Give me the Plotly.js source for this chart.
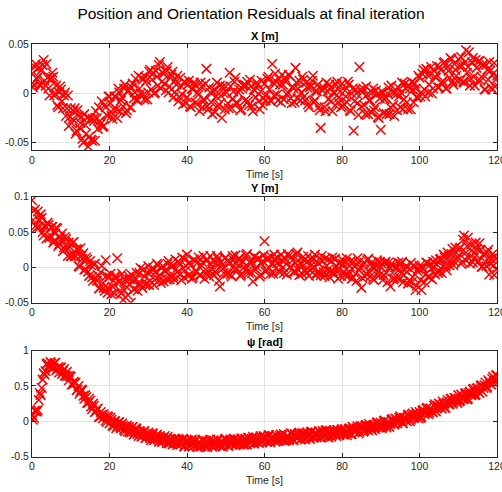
<!DOCTYPE html>
<html>
<head>
<meta charset="utf-8">
<script src="https://cdn.plot.ly/plotly-3.0.1.min.js"></script>
<style>html,body{margin:0;padding:0;background:#fff;}#chart{width:502px;height:492px;}</style>
</head>
<body>
<div id="chart"></div>
<script>
// Time samples [s]
const time = [
0,0.25,0.5,0.75,1,1.25,1.5,1.75,2,2.25,2.5,2.75,3,3.25,3.5,3.75,4,4.25,4.5,4.75,
5,5.25,5.5,5.75,6,6.25,6.5,6.75,7,7.25,7.5,7.75,8,8.25,8.5,8.75,9,9.25,9.5,9.75,
10,10.25,10.5,10.75,11,11.25,11.5,11.75,12,12.25,12.5,12.75,13,13.25,13.5,13.75,14,14.25,14.5,14.75,
15,15.25,15.5,15.75,16,16.25,16.5,16.75,17,17.25,17.5,17.75,18,18.25,18.5,18.75,19,19.25,19.5,19.75,
20,20.25,20.5,20.75,21,21.25,21.5,21.75,22,22.25,22.5,22.75,23,23.25,23.5,23.75,24,24.25,24.5,24.75,
25,25.25,25.5,25.75,26,26.25,26.5,26.75,27,27.25,27.5,27.75,28,28.25,28.5,28.75,29,29.25,29.5,29.75,
30,30.25,30.5,30.75,31,31.25,31.5,31.75,32,32.25,32.5,32.75,33,33.25,33.5,33.75,34,34.25,34.5,34.75,
35,35.25,35.5,35.75,36,36.25,36.5,36.75,37,37.25,37.5,37.75,38,38.25,38.5,38.75,39,39.25,39.5,39.75,
40,40.25,40.5,40.75,41,41.25,41.5,41.75,42,42.25,42.5,42.75,43,43.25,43.5,43.75,44,44.25,44.5,44.75,
45,45.25,45.5,45.75,46,46.25,46.5,46.75,47,47.25,47.5,47.75,48,48.25,48.5,48.75,49,49.25,49.5,49.75,
50,50.25,50.5,50.75,51,51.25,51.5,51.75,52,52.25,52.5,52.75,53,53.25,53.5,53.75,54,54.25,54.5,54.75,
55,55.25,55.5,55.75,56,56.25,56.5,56.75,57,57.25,57.5,57.75,58,58.25,58.5,58.75,59,59.25,59.5,59.75,
60,60.25,60.5,60.75,61,61.25,61.5,61.75,62,62.25,62.5,62.75,63,63.25,63.5,63.75,64,64.25,64.5,64.75,
65,65.25,65.5,65.75,66,66.25,66.5,66.75,67,67.25,67.5,67.75,68,68.25,68.5,68.75,69,69.25,69.5,69.75,
70,70.25,70.5,70.75,71,71.25,71.5,71.75,72,72.25,72.5,72.75,73,73.25,73.5,73.75,74,74.25,74.5,74.75,
75,75.25,75.5,75.75,76,76.25,76.5,76.75,77,77.25,77.5,77.75,78,78.25,78.5,78.75,79,79.25,79.5,79.75,
80,80.25,80.5,80.75,81,81.25,81.5,81.75,82,82.25,82.5,82.75,83,83.25,83.5,83.75,84,84.25,84.5,84.75,
85,85.25,85.5,85.75,86,86.25,86.5,86.75,87,87.25,87.5,87.75,88,88.25,88.5,88.75,89,89.25,89.5,89.75,
90,90.25,90.5,90.75,91,91.25,91.5,91.75,92,92.25,92.5,92.75,93,93.25,93.5,93.75,94,94.25,94.5,94.75,
95,95.25,95.5,95.75,96,96.25,96.5,96.75,97,97.25,97.5,97.75,98,98.25,98.5,98.75,99,99.25,99.5,99.75,
100,100.25,100.5,100.75,101,101.25,101.5,101.75,102,102.25,102.5,102.75,103,103.25,103.5,103.75,104,104.25,104.5,104.75,
105,105.25,105.5,105.75,106,106.25,106.5,106.75,107,107.25,107.5,107.75,108,108.25,108.5,108.75,109,109.25,109.5,109.75,
110,110.25,110.5,110.75,111,111.25,111.5,111.75,112,112.25,112.5,112.75,113,113.25,113.5,113.75,114,114.25,114.5,114.75,
115,115.25,115.5,115.75,116,116.25,116.5,116.75,117,117.25,117.5,117.75,118,118.25,118.5,118.75,119,119.25,119.5,119.75,
120];

// X residual [m]
const resX = [
0.020,0.006,0.009,0.027,0.030,0.015,0.017,0.026,0.009,0.008,0.024,0.029,0.034,0.013,0.008,0.030,0.016,0.005,-0.002,0.015,
0.016,0.021,0.017,-0.002,0.000,0.008,-0.012,-0.014,0.001,0.007,0.004,-0.008,-0.015,-0.002,0.001,-0.023,-0.015,-0.002,-0.033,-0.024,
-0.015,-0.030,-0.026,-0.018,-0.015,-0.041,-0.038,-0.017,-0.023,-0.035,-0.030,-0.024,-0.046,-0.050,-0.021,-0.032,-0.041,-0.025,-0.054,-0.044,
-0.026,-0.047,-0.048,-0.026,-0.028,-0.048,-0.018,-0.025,-0.036,-0.014,-0.028,-0.031,-0.008,-0.034,-0.033,-0.012,-0.014,-0.022,-0.023,-0.003,
-0.003,-0.010,-0.023,-0.026,-0.016,-0.003,-0.003,-0.016,-0.025,0.005,0.001,-0.018,-0.007,-0.004,-0.013,0.005,0.009,-0.020,-0.017,0.003,
0.003,-0.014,-0.014,0.006,0.010,-0.005,0.001,0.015,-0.006,-0.007,0.018,0.005,0.000,0.016,0.014,-0.001,-0.006,0.017,0.013,-0.006,
0.001,0.022,0.024,0.004,0.014,0.021,0.000,0.001,0.023,0.017,0.008,0.029,0.032,0.005,0.012,0.021,0.020,0.010,0.003,0.023,
0.027,0.001,0.007,0.016,0.019,0.022,-0.004,0.001,0.014,0.009,0.018,-0.008,-0.003,0.016,0.007,-0.001,-0.011,0.012,0.011,-0.010,
-0.004,0.009,0.013,-0.013,-0.014,0.005,0.004,0.011,0.009,-0.009,-0.011,0.001,-0.001,-0.018,0.011,0.007,-0.014,-0.006,-0.007,0.010,
0.025,-0.013,-0.016,0.006,0.001,-0.009,-0.021,0.002,0.004,-0.019,-0.003,0.011,-0.013,-0.011,0.008,-0.002,-0.025,0.007,0.000,-0.016,
0.007,0.001,-0.010,-0.015,0.021,0.007,-0.015,-0.006,0.002,0.012,0.016,-0.009,-0.010,0.001,0.004,-0.017,-0.016,0.005,0.008,0.009,
-0.007,0.008,0.012,-0.008,-0.012,0.014,0.007,-0.013,-0.018,0.004,0.003,-0.004,0.011,0.009,-0.008,-0.016,0.002,0.013,-0.012,-0.005,
0.010,-0.007,-0.001,0.015,0.017,0.004,-0.007,-0.008,0.030,0.011,-0.002,0.020,0.012,-0.001,-0.007,0.015,0.009,-0.009,0.019,0.009,
-0.006,0.016,0.012,-0.001,0.001,0.019,0.018,-0.005,-0.010,0.007,0.005,-0.009,0.026,0.011,-0.005,0.005,0.013,-0.007,0.001,0.017,
0.014,-0.003,-0.007,0.011,0.006,-0.011,-0.014,0.006,0.008,0.013,0.018,-0.009,-0.007,0.003,0.002,0.009,-0.014,-0.017,-0.035,0.004,
0.003,0.006,-0.014,-0.018,0.011,0.002,-0.006,0.009,0.006,-0.008,-0.018,0.001,0.000,-0.012,0.009,0.012,-0.009,-0.004,0.002,-0.014,
0.010,-0.013,-0.011,0.003,-0.003,-0.009,0.012,0.009,-0.017,-0.018,0.000,0.005,-0.038,-0.008,0.004,0.000,-0.010,-0.022,0.027,0.004,
-0.013,0.001,0.005,-0.012,-0.021,0.007,-0.001,-0.021,-0.007,-0.007,-0.019,0.001,0.005,-0.017,-0.014,0.003,-0.001,-0.024,-0.025,-0.005,
-0.037,0.002,0.001,-0.020,-0.006,-0.004,-0.021,0.000,0.006,-0.021,-0.014,0.008,0.001,-0.012,-0.023,0.001,-0.001,-0.017,0.006,-0.003,
-0.014,0.001,0.011,-0.016,-0.006,0.010,0.005,-0.009,-0.016,0.008,0.005,-0.016,0.012,0.004,-0.009,0.010,0.005,-0.004,-0.004,0.018,
0.016,-0.003,0.001,0.020,0.024,0.004,-0.003,0.025,0.019,0.001,0.009,0.019,0.027,0.000,0.005,0.023,0.017,0.016,0.028,0.006,
0.006,0.027,0.024,0.011,0.013,0.031,0.032,0.005,0.005,0.027,0.023,0.016,0.036,0.035,0.012,0.009,0.030,0.024,0.018,0.013,
0.035,0.028,0.013,0.037,0.028,0.012,0.011,0.032,0.044,0.021,0.027,0.042,0.008,0.015,0.032,0.036,0.017,0.008,0.034,0.026,
0.013,0.033,0.033,0.013,0.017,0.029,0.029,0.004,0.004,0.029,0.024,0.014,0.032,0.023,0.006,0.004,0.020,0.031,0.007,0.014,
0.018];

// Y residual [m]
const resY = [
0.095,0.067,0.080,0.082,0.059,0.056,0.079,0.068,0.057,0.075,0.070,0.050,0.045,0.059,0.058,0.041,0.063,0.060,0.042,0.045,
0.057,0.057,0.035,0.038,0.048,0.056,0.055,0.030,0.033,0.043,0.040,0.048,0.023,0.028,0.043,0.040,0.028,0.016,0.035,0.029,
0.016,0.016,0.035,0.036,0.016,0.016,0.026,0.025,0.002,0.001,0.027,0.016,0.012,0.020,-0.003,-0.003,0.014,0.011,-0.006,-0.012,
0.009,0.003,-0.014,-0.019,0.004,0.005,-0.016,-0.019,-0.011,-0.030,-0.029,-0.007,0.002,-0.022,-0.029,-0.033,0.010,-0.012,-0.036,-0.030,
-0.014,-0.009,-0.038,-0.027,-0.019,-0.037,-0.012,-0.014,0.013,-0.020,-0.021,-0.033,-0.037,-0.009,-0.046,-0.032,-0.017,-0.019,-0.028,-0.039,
-0.013,-0.017,-0.050,-0.011,-0.018,-0.031,-0.031,-0.017,-0.008,-0.033,-0.024,-0.008,-0.001,-0.024,-0.029,-0.003,-0.013,-0.025,-0.023,-0.007,
0.002,-0.025,-0.019,-0.007,-0.003,-0.001,-0.025,-0.018,-0.006,0.005,0.003,-0.012,-0.018,-0.022,-0.001,0.002,-0.020,-0.005,-0.005,-0.017,
0.005,0.009,-0.017,-0.014,0.001,0.002,-0.012,-0.017,0.011,-0.002,-0.007,0.008,0.006,-0.010,-0.018,0.014,-0.001,-0.014,0.011,0.002,
0.018,-0.012,-0.011,0.007,0.003,-0.016,-0.014,0.011,0.009,-0.005,-0.006,0.007,0.014,-0.011,-0.011,0.003,0.007,0.016,-0.016,-0.008,
0.009,0.011,-0.007,-0.013,0.016,0.004,-0.003,0.010,-0.011,-0.006,0.006,0.016,0.012,-0.019,-0.027,0.007,0.003,-0.002,-0.008,0.013,
0.014,-0.008,-0.009,0.009,0.006,-0.010,-0.013,0.016,0.010,-0.003,0.017,0.005,-0.002,0.012,0.012,-0.012,-0.010,0.008,0.008,0.000,
-0.004,0.017,0.019,-0.005,-0.008,0.007,0.006,-0.008,-0.020,0.015,0.015,-0.003,0.001,0.012,0.012,-0.013,-0.010,0.005,0.009,0.017,
0.037,-0.006,-0.004,0.010,0.014,-0.001,-0.009,0.015,0.006,-0.009,0.018,0.012,-0.001,0.006,0.013,-0.005,-0.007,0.018,0.010,0.000,
-0.008,0.013,0.011,-0.010,0.019,0.016,0.000,0.001,0.015,0.010,-0.006,-0.007,0.006,0.019,0.021,-0.004,-0.011,0.007,0.004,-0.009,
0.015,0.010,-0.004,-0.008,0.008,0.016,-0.012,-0.004,0.011,0.004,-0.001,0.012,0.018,-0.011,-0.008,0.007,0.005,-0.007,-0.011,0.016,
0.009,-0.007,-0.012,0.013,0.002,-0.004,0.011,-0.014,-0.006,0.009,0.014,-0.006,-0.010,0.012,0.002,-0.003,-0.016,0.006,0.006,-0.012,
0.011,0.005,-0.006,-0.011,0.007,0.013,-0.012,-0.006,0.002,0.009,-0.016,-0.015,0.008,0.001,-0.009,-0.019,0.013,0.007,-0.004,0.000,
-0.029,-0.015,0.004,0.007,-0.013,-0.009,0.010,0.012,-0.007,-0.013,0.006,0.001,-0.016,-0.018,-0.001,0.003,0.010,-0.007,-0.012,0.008,
0.001,0.005,-0.018,-0.011,0.006,0.008,-0.008,-0.021,0.007,0.000,-0.027,0.005,0.002,-0.017,-0.015,0.000,-0.002,-0.015,0.007,-0.003,
-0.015,0.005,0.008,-0.021,-0.011,-0.004,0.002,0.001,-0.023,-0.019,-0.002,0.006,-0.021,-0.014,0.003,0.001,-0.032,-0.026,-0.005,-0.002,
0.002,-0.018,-0.032,-0.002,-0.001,-0.021,-0.010,0.007,0.006,-0.013,-0.014,0.004,-0.002,-0.017,0.008,0.001,-0.010,0.010,0.004,-0.008,
-0.006,0.011,0.012,-0.008,0.002,0.018,0.014,0.001,-0.004,0.021,0.016,0.003,0.009,0.019,0.026,0.003,0.008,0.028,0.021,0.015,
0.014,0.026,0.028,0.005,0.008,0.039,0.045,0.011,0.021,0.030,0.042,0.013,0.005,0.032,0.024,0.007,0.013,0.020,0.035,0.026,
0.007,0.009,0.034,0.025,0.001,0.001,0.018,0.020,0.008,0.002,0.021,0.025,-0.010,0.005,0.012,0.018,0.002,-0.011,0.016,0.012,
-0.002];

// Heading residual psi [rad]
const resPsi = [
0.09,0.02,0.05,0.15,0.14,0.14,0.16,0.30,0.40,0.37,0.47,0.59,0.68,0.66,0.71,0.81,0.82,0.78,0.79,0.84,
0.82,0.76,0.75,0.82,0.83,0.72,0.74,0.77,0.69,0.76,0.76,0.67,0.71,0.74,0.65,0.64,0.70,0.64,0.58,0.64,
0.63,0.52,0.52,0.56,0.54,0.55,0.44,0.45,0.50,0.39,0.42,0.45,0.44,0.36,0.32,0.37,0.34,0.26,0.26,0.32,
0.29,0.21,0.17,0.25,0.22,0.13,0.14,0.17,0.18,0.06,0.06,0.13,0.09,0.04,0.10,0.07,0.01,-0.01,0.07,0.06,
-0.03,0.05,0.02,-0.06,-0.07,0.00,0.00,-0.10,-0.07,-0.02,-0.01,-0.09,-0.10,-0.03,-0.06,-0.12,-0.14,-0.08,-0.06,-0.15,
-0.08,-0.15,-0.16,-0.09,-0.08,-0.19,-0.16,-0.10,-0.11,-0.18,-0.21,-0.14,-0.15,-0.22,-0.21,-0.15,-0.14,-0.24,-0.23,-0.18,
-0.16,-0.18,-0.24,-0.27,-0.17,-0.18,-0.27,-0.25,-0.21,-0.19,-0.26,-0.29,-0.21,-0.23,-0.29,-0.29,-0.23,-0.21,-0.27,-0.31,
-0.22,-0.31,-0.31,-0.25,-0.26,-0.33,-0.31,-0.25,-0.25,-0.31,-0.34,-0.25,-0.27,-0.33,-0.32,-0.26,-0.25,-0.36,-0.35,-0.29,
-0.28,-0.27,-0.36,-0.33,-0.27,-0.26,-0.32,-0.35,-0.26,-0.28,-0.34,-0.37,-0.30,-0.30,-0.36,-0.35,-0.27,-0.27,-0.34,-0.36,
-0.28,-0.37,-0.34,-0.28,-0.26,-0.33,-0.36,-0.27,-0.29,-0.35,-0.33,-0.26,-0.27,-0.34,-0.35,-0.29,-0.28,-0.36,-0.31,-0.26,
-0.25,-0.28,-0.34,-0.35,-0.28,-0.26,-0.33,-0.33,-0.26,-0.25,-0.34,-0.31,-0.26,-0.26,-0.31,-0.33,-0.24,-0.27,-0.33,-0.33,
-0.25,-0.32,-0.33,-0.23,-0.24,-0.31,-0.29,-0.25,-0.22,-0.32,-0.30,-0.23,-0.25,-0.29,-0.31,-0.23,-0.21,-0.30,-0.28,-0.21,
-0.22,-0.23,-0.29,-0.29,-0.20,-0.20,-0.30,-0.27,-0.23,-0.21,-0.27,-0.29,-0.20,-0.22,-0.28,-0.27,-0.21,-0.19,-0.25,-0.27,
-0.18,-0.28,-0.27,-0.21,-0.21,-0.27,-0.26,-0.17,-0.18,-0.25,-0.27,-0.18,-0.19,-0.24,-0.24,-0.18,-0.16,-0.26,-0.25,-0.17,
-0.18,-0.17,-0.26,-0.23,-0.16,-0.18,-0.21,-0.25,-0.15,-0.15,-0.23,-0.23,-0.17,-0.16,-0.23,-0.21,-0.14,-0.15,-0.21,-0.23,
-0.14,-0.21,-0.21,-0.13,-0.13,-0.22,-0.23,-0.14,-0.15,-0.22,-0.19,-0.15,-0.13,-0.19,-0.21,-0.12,-0.13,-0.20,-0.17,-0.13,
-0.11,-0.18,-0.19,-0.11,-0.13,-0.20,-0.17,-0.11,-0.10,-0.18,-0.18,-0.08,-0.10,-0.16,-0.14,-0.10,-0.07,-0.17,-0.15,-0.07,
-0.08,-0.07,-0.15,-0.13,-0.06,-0.05,-0.10,-0.13,-0.04,-0.07,-0.11,-0.13,-0.06,-0.05,-0.11,-0.09,-0.02,-0.02,-0.08,-0.09,
-0.02,-0.10,-0.08,0.00,0.01,-0.07,-0.09,-0.02,-0.01,-0.08,-0.04,0.02,0.03,-0.03,-0.05,0.04,0.03,-0.03,0.00,0.05,
0.07,0.05,-0.02,-0.03,0.05,0.05,0.01,0.00,0.09,0.09,0.00,0.02,0.09,0.11,0.05,0.05,0.13,0.11,0.05,0.04,
0.13,0.05,0.06,0.15,0.16,0.10,0.12,0.18,0.19,0.10,0.12,0.18,0.18,0.13,0.13,0.22,0.24,0.14,0.18,0.22,
0.25,0.24,0.19,0.18,0.28,0.25,0.19,0.19,0.27,0.30,0.24,0.24,0.32,0.32,0.25,0.27,0.33,0.33,0.30,0.26,
0.37,0.28,0.29,0.38,0.36,0.31,0.32,0.39,0.40,0.31,0.32,0.40,0.42,0.37,0.38,0.45,0.46,0.37,0.38,0.46,
0.47,0.41,0.40,0.50,0.51,0.42,0.47,0.51,0.55,0.47,0.49,0.58,0.56,0.53,0.52,0.60,0.63,0.54,0.58,0.65,
0.65];

// Labels
const mainTitle = 'Position and Orientation Residuals at final iteration';
const panelTitles = ['X [m]', 'Y [m]', 'ψ [rad]'];
const xLabel = 'Time [s]';
const xTicks = [0, 20, 40, 60, 80, 100, 120];
const yTicks1 = [-0.05, 0, 0.05];
const yTickText1 = ['-0.05', '0', '0.05'];
const yTicks2 = [-0.05, 0, 0.05, 0.1];
const yTickText2 = ['-0.05', '0', '0.05', '0.1'];
const yTicks3 = [-0.5, 0, 0.5, 1];
const yTickText3 = ['-0.5', '0', '0.5', '1'];

const W = 502, H = 492;
const px = v => v / W;
const py = v => 1 - v / H;
const xDom = [px(32), px(497)];
const panels = [[44.3, 150], [196.7, 302.7], [350.7, 456.5]];
const yRanges = [[-0.0575, 0.05], [-0.05, 0.1], [-0.5, 1]];

const FONT = 'Liberation Sans, Arial, Helvetica, sans-serif';
const AX = '#262626';

const marker = {symbol: 'x-thin', size: 9.5, color: '#ff0000', line: {color: '#ff0000', width: 1.5}};
const series = [resX, resY, resPsi];

const traces = series.map((s, i) => ({
  type: 'scatter', mode: 'markers',
  x: time, y: s,
  xaxis: i === 0 ? 'x' : 'x' + (i + 1),
  yaxis: i === 0 ? 'y' : 'y' + (i + 1),
  marker: marker, showlegend: false, hoverinfo: 'x+y', cliponaxis: true
}));

const layout = {
  width: W, height: H,
  margin: {l: 0, r: 0, t: 0, b: 0},
  paper_bgcolor: '#fff', plot_bgcolor: '#fff',
  showlegend: false,
  font: {family: FONT, size: 10.5, color: AX},
  title: {text: mainTitle, font: {family: FONT, size: 15.5, color: '#000'},
          x: 0.5, xanchor: 'center', xref: 'paper', y: 1 - 14 / H, yanchor: 'middle', yref: 'container'},
  annotations: []
};

const yTickSets = [[yTicks1, yTickText1], [yTicks2, yTickText2], [yTicks3, yTickText3]];
panels.forEach((p, i) => {
  const sx = i === 0 ? '' : String(i + 1);
  layout['xaxis' + sx] = {
    domain: xDom, range: [0, 120], anchor: 'y' + sx,
    tickmode: 'array', tickvals: xTicks, ticktext: xTicks.map(String),
    ticklabeloverflow: 'allow',
    showgrid: true, gridcolor: '#e3e3e3', gridwidth: 1, zeroline: false,
    showline: true, linecolor: AX, linewidth: 1, mirror: 'ticks',
    ticks: 'inside', ticklen: 4, tickcolor: AX, tickfont: {family: FONT, size: 10.5, color: AX}
  };
  layout['yaxis' + sx] = {
    domain: [py(p[1]), py(p[0])], range: yRanges[i], anchor: 'x' + sx,
    tickmode: 'array', tickvals: yTickSets[i][0], ticktext: yTickSets[i][1],
    showgrid: true, gridcolor: '#e3e3e3', gridwidth: 1, zeroline: false,
    showline: true, linecolor: AX, linewidth: 1, mirror: 'ticks',
    ticks: 'inside', ticklen: 4, tickcolor: AX, tickfont: {family: FONT, size: 10.5, color: AX}
  };
  layout.annotations.push({
    text: '<b>' + panelTitles[i] + '</b>', xref: 'paper', yref: 'paper',
    x: (xDom[0] + xDom[1]) / 2, y: py(p[0] - 8.5), xanchor: 'center', yanchor: 'middle',
    showarrow: false, font: {family: FONT, size: 11, color: '#000'}
  });
  layout.annotations.push({
    text: xLabel, xref: 'paper', yref: 'paper',
    x: (xDom[0] + xDom[1]) / 2, y: py(p[1] + 23.5), xanchor: 'center', yanchor: 'middle',
    showarrow: false, font: {family: FONT, size: 10.5, color: AX}
  });
});

Plotly.newPlot('chart', traces, layout, {displayModeBar: false, staticPlot: true});
</script>
</body>
</html>
